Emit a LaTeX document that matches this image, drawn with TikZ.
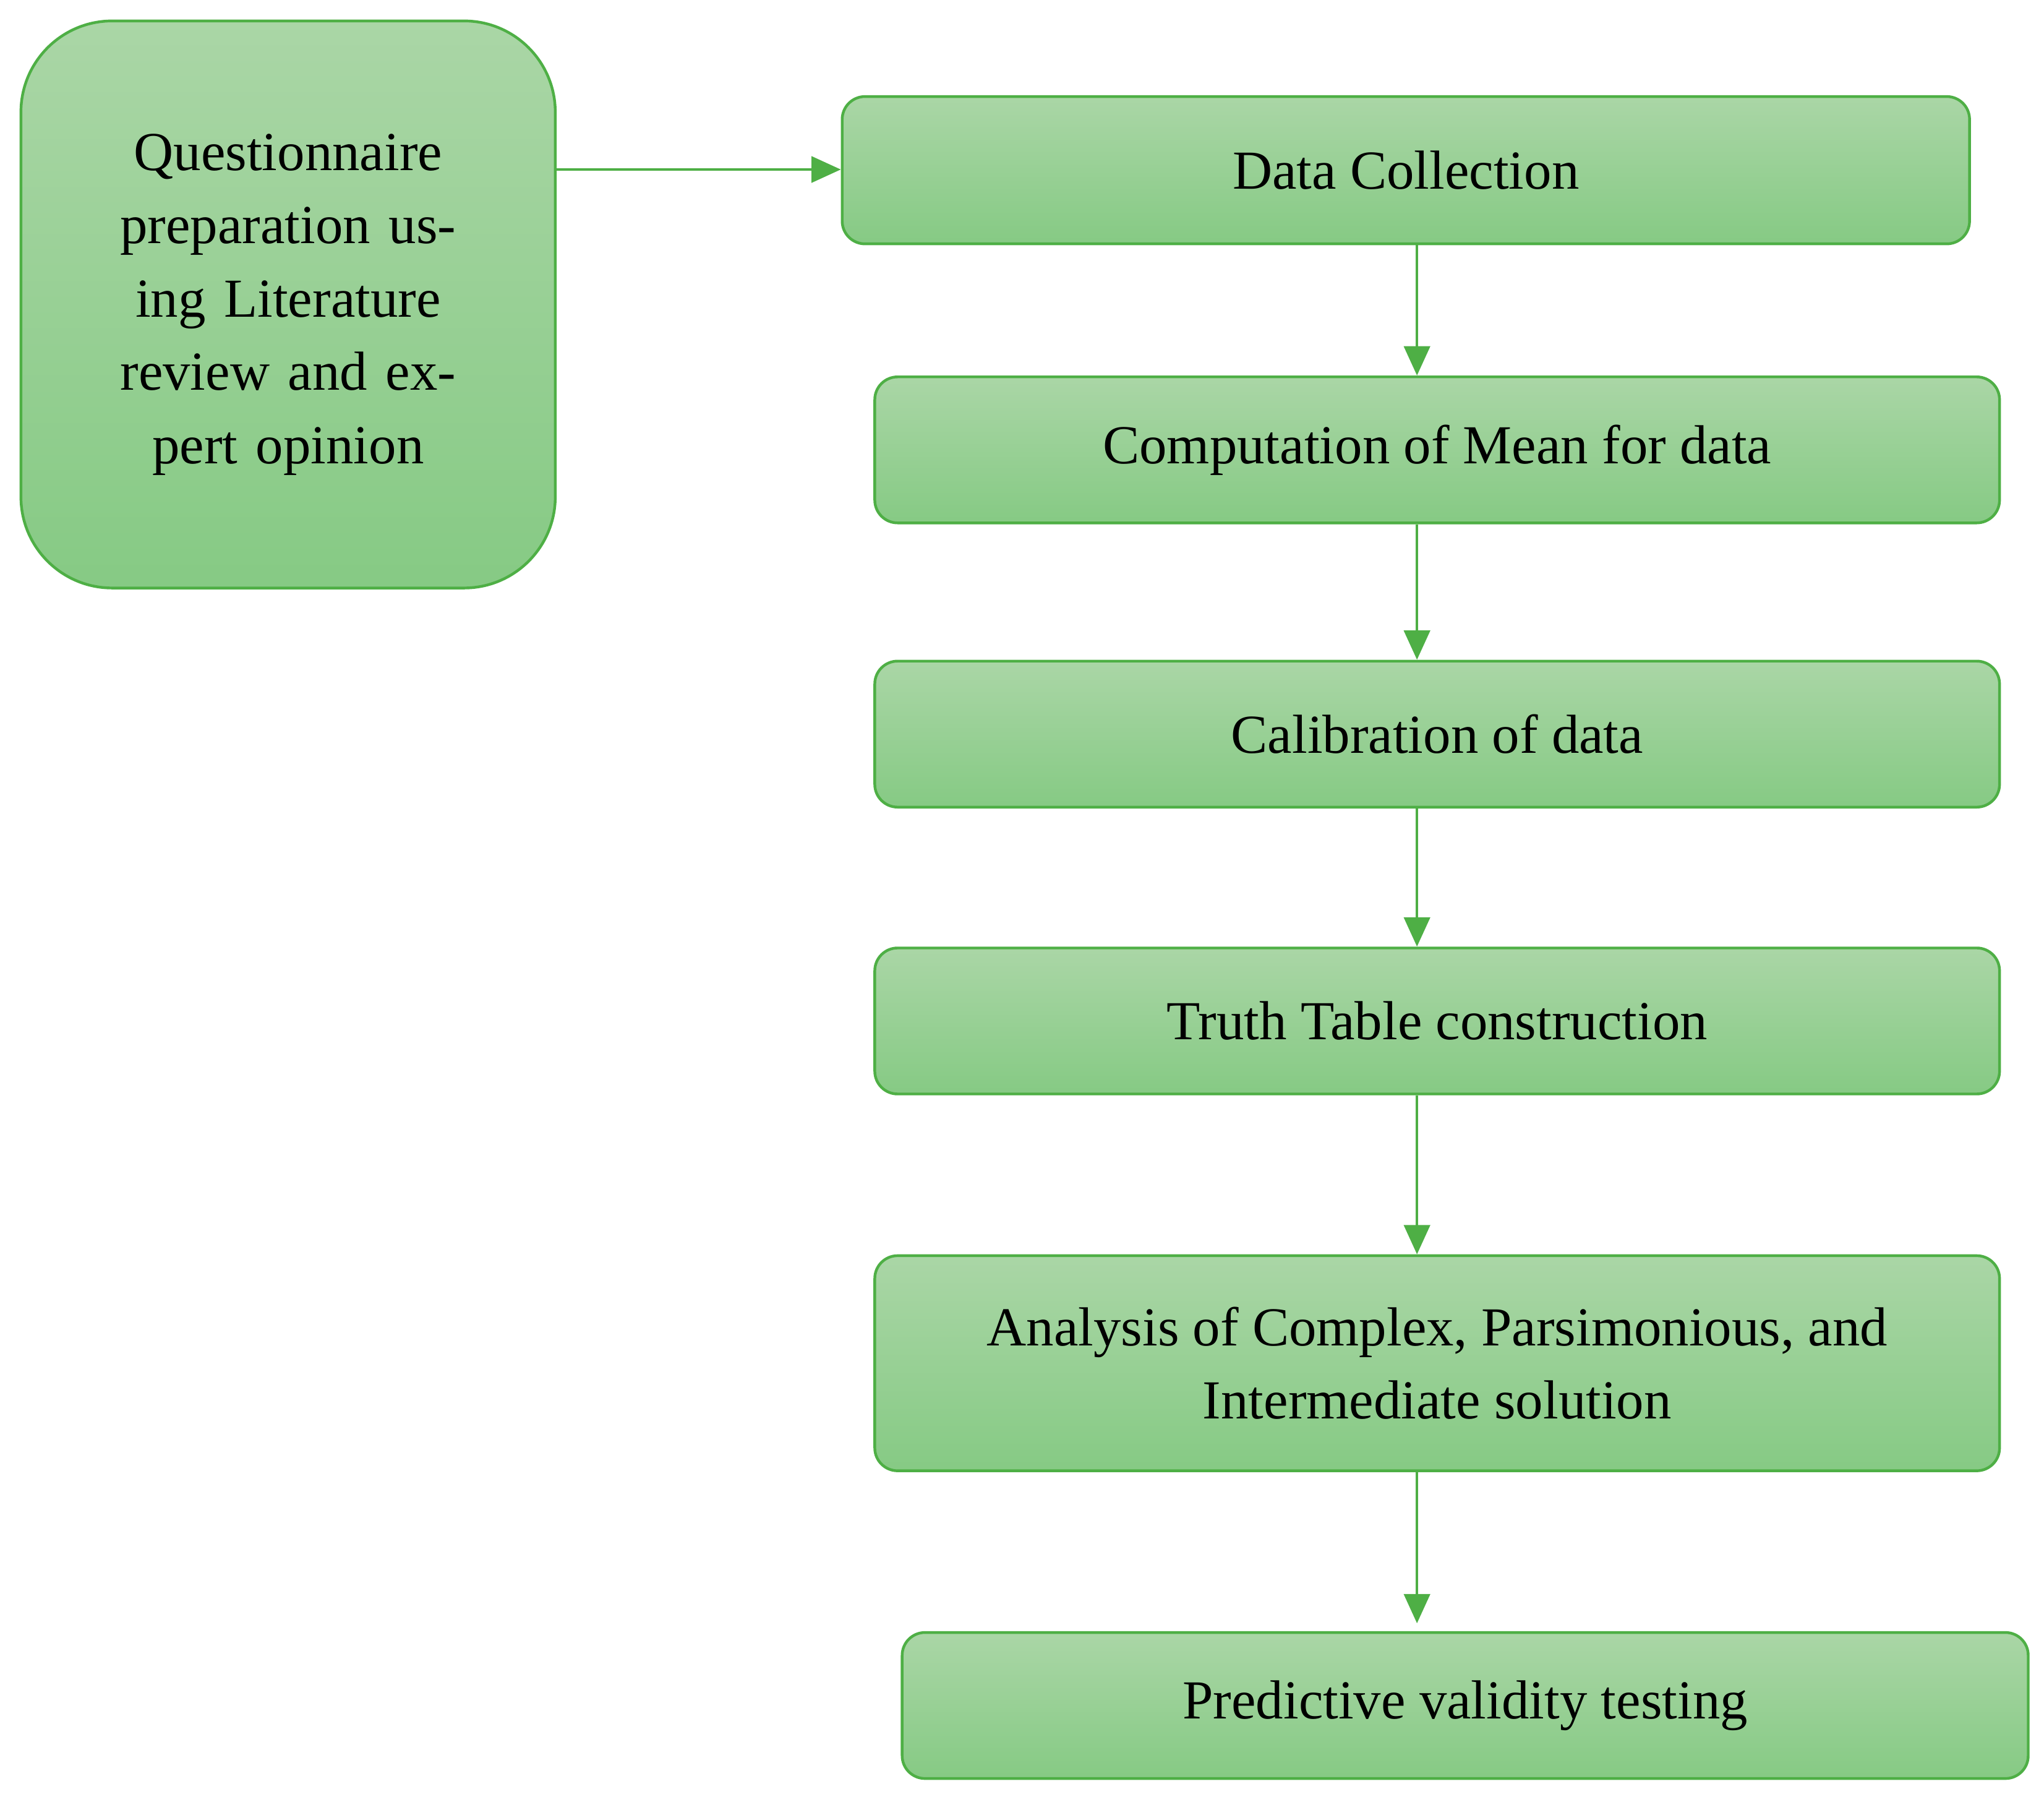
\documentclass[tikz,border=0pt]{standalone}
\usepackage{fontspec}
\setmainfont{Liberation Serif}
\usetikzlibrary{arrows.meta}
\definecolor{topg}{HTML}{AAD6A6}
\definecolor{botg}{HTML}{86CA84}
\definecolor{edg}{HTML}{4EAF45}
\begin{document}
\begin{tikzpicture}[x=0.02cm,y=-0.02cm,
 box/.style={draw=edg,line width=1.2pt,rounded corners=0.35cm,top color=topg,bottom color=botg,inner sep=0pt,font=\fontsize{24}{32}\selectfont,align=center},
 arr/.style={draw=edg,line width=1.2pt,-{Triangle[length=0.45cm,width=0.4cm]}}]
\useasboundingbox (0,0) rectangle (1568,1378);
\node[box,rounded corners=1.4cm,minimum width=8.2cm,minimum height=8.7cm,text width=6cm,anchor=north west] (q) at (15,15) {\raisebox{0pt}{}Questionnaire\\preparation us-\\ing Literature\\review and ex-\\pert opinion\\[1.3cm]};
\node[box,minimum width=17.3cm,minimum height=2.26cm,anchor=north west] (d) at (645,73) {Data Collection};
\node[box,minimum width=17.26cm,minimum height=2.24cm,anchor=north west] (c) at (670,288) {Computation of Mean for data};
\node[box,minimum width=17.26cm,minimum height=2.24cm,anchor=north west] (k) at (670,506) {Calibration of data};
\node[box,minimum width=17.26cm,minimum height=2.24cm,anchor=north west] (t) at (670,726) {Truth Table construction};
\node[box,minimum width=17.26cm,minimum height=3.3cm,anchor=north west] (a) at (670,962) {Analysis of Complex, Parsimonious, and\\Intermediate solution};
\node[box,minimum width=17.28cm,minimum height=2.24cm,anchor=north west] (p) at (691,1251) {Predictive validity testing};
\coordinate (x1) at (1087,186);
\draw[arr] (q.east |- 0,130) -- (d.west |- 0,130);
\draw[arr] (1087,186) -- (c.north -| 1087,0);
\draw[arr] (c.south -| 1087,0) -- (k.north -| 1087,0);
\draw[arr] (k.south -| 1087,0) -- (t.north -| 1087,0);
\draw[arr] (t.south -| 1087,0) -- (a.north -| 1087,0);
\draw[arr] (a.south -| 1087,0) -- (1087,1245);
\end{tikzpicture}
\end{document}
